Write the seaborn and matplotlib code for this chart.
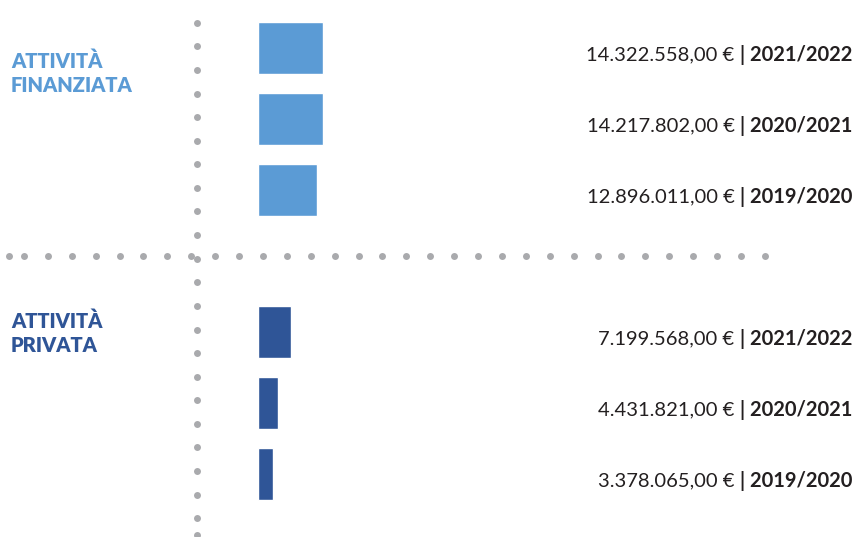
import numpy as np
import pandas as pd
import matplotlib
matplotlib.use('Agg')
import matplotlib.pyplot as plt
import seaborn as sns

# Data
anni = ['2021/2022', '2020/2021', '2019/2020']
finanziata = [14322558.00, 14217802.00, 12896011.00]
privata = [7199568.00, 4431821.00, 3378065.00]
gruppi = ['ATTIVITÀ\nFINANZIATA', 'ATTIVITÀ\nPRIVATA']
colori = ['#5B9BD5', '#2F5597']

rows = []
for gruppo, valori in zip(gruppi, [finanziata, privata]):
    for anno, v in zip(anni, valori):
        rows.append({'riga': gruppo.split('\n')[1] + ' ' + anno, 'anno': anno,
                     'importo': v, 'gruppo': gruppo})
df = pd.DataFrame(rows)
order = list(df['riga'][:3]) + [''] + list(df['riga'][3:])


def euro(v):
    s = f'{v:,.2f}'
    return s.replace(',', 'X').replace('.', ',').replace('X', '.') + ' €'


sns.set_theme(style='white')
plt.rcParams['font.family'] = ['Lato', 'DejaVu Sans']

W, H = 854, 537
fig = plt.figure(figsize=(W / 100, H / 100), dpi=100)
ax = fig.add_axes([0, 0, 1, 1])

sns.barplot(data=df, x='importo', y='riga', hue='gruppo', order=order,
            palette=colori, dodge=False, width=0.745, legend=False,
            orient='h', saturation=1, ax=ax)

# scale: bar origin at x=258 px, largest bar 65 px long
px_per_euro = 65 / max(finanziata)
ax.set_xlim(-258 / px_per_euro, (W - 258) / px_per_euro)
row_px = 71
ax.set_ylim(6 + (H - 474) / row_px, -48 / row_px)
ax.axis('off')

# dotted guides
grey = '#A9AAAD'
vy = np.concatenate([np.arange(22.7, 530, 23.6), [535]])
ax.plot(np.full_like(vy, 197) / W, 1 - vy / H, 'o', color=grey, ms=5,
        mew=0, transform=ax.transAxes, clip_on=False)
hx = np.concatenate([[9], np.arange(24, 770, 23.9)])
ax.plot(hx / W, np.full_like(hx, 1 - 255.7 / H), 'o', color=grey, ms=5,
        mew=0, transform=ax.transAxes, clip_on=False)

# group labels
for gruppo, colore, ypx in zip(gruppi, colori, [73, 333]):
    ax.text(11 / W, 1 - ypx / H, gruppo, color=colore, fontsize=14.5,
            fontweight='heavy', va='center', ha='left', linespacing=1.3,
            transform=ax.transAxes)

# value labels on the right
fig.canvas.draw()
renderer = fig.canvas.get_renderer()
txt_color = '#231F20'
right = (W - 2) / W
for i, r in df.iterrows():
    y = order.index(r['riga']) + 0.1
    b = ax.text(right, y, '| ' + r['anno'], fontsize=14.5, fontweight='bold',
                color=txt_color, ha='right', va='center',
                transform=ax.get_yaxis_transform())
    bb = b.get_window_extent(renderer)
    x_left = (bb.x0 - 5) / W
    ax.text(x_left, y, euro(r['importo']), fontsize=14.5, fontweight='normal',
            color=txt_color, ha='right', va='center',
            transform=ax.get_yaxis_transform())

fig.savefig('out.png', dpi=100)
